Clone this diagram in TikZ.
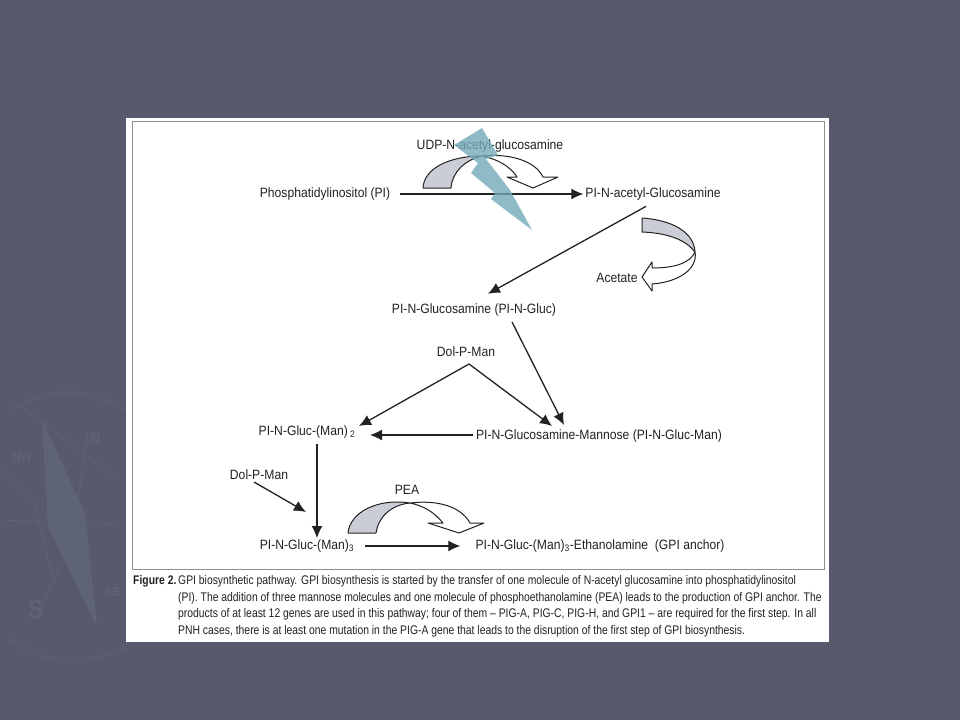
\documentclass[tikz,border=0pt]{standalone}
\usepackage{fontspec}
\setmainfont[FakeStretch=0.9]{Liberation Sans}
\newfontfamily\captiontext[FakeStretch=0.83]{Liberation Sans}
\usepackage{xcolor}
\usetikzlibrary{
    arrows.meta,
    positioning,
    calc
}
\definecolor{slidebg}{HTML}{575A6C}
\definecolor{slidemark}{HTML}{5F6376}
\definecolor{framegray}{HTML}{8E8E8E}
\definecolor{bandgray}{HTML}{CBCDD6}
\definecolor{boltblue}{HTML}{73ABB8}
\definecolor{inkdark}{HTML}{222222}

\begin{document}
\begin{tikzpicture}[
        x=1pt,
        y=-1pt,
        compound/.style={
            text=inkdark,
            font=\fontsize{13.5}{15}\selectfont,
            inner sep=2pt
        },
        line/.style={
            -{Latex[length=12pt,width=11pt]},
            line width=1.3pt,
            draw=inkdark
        },
        band/.style={
            fill=bandgray,
            draw=inkdark,
            line width=1pt,
            line join=round
        },
        hollow/.style={
            fill=white,
            draw=inkdark,
            line width=1pt,
            line join=round
        },
        compassline/.style={
            draw=slidemark,
            line width=0.8pt
        },
        compassfont/.style={
            text=slidemark,
            font=\bfseries\fontsize{26}{28}\selectfont
        },
        captionfont/.style={
            anchor=north west,
            inner sep=0pt,
            align=left,
            text=inkdark,
            font=\captiontext\fontsize{12.5}{16.8}\selectfont
        }
    ]

    % slide
    \useasboundingbox (0,0) rectangle (960,720);
    \fill[slidebg] (0,0) rectangle (960,720);

    % compass behind the panel
    \fill[slidemark] (42,420) -- (85,513) -- (97,627) -- (48,527) -- cycle;
    \draw[compassline] (88,430) -- (72,540) -- (40,610);
    \draw[compassline] (0,520) -- (120,525);
    \draw[compassline] (20,405) -- (120,480);
    \draw[compassline] (55,585) -- (33,500) -- (0,470);
    \draw[compassline, line width=5pt, dash pattern=on 1pt off 3pt]
        (10,640) arc[start angle=125, end angle=60, radius=110];
    \draw[compassline, line width=5pt, dash pattern=on 1pt off 3pt]
        (8,412) arc[start angle=-125, end angle=-50, radius=105];
    \node[compassfont] (compassS) at (36,610) {S};
    \node[compassfont, font=\bfseries\fontsize{15}{16}\selectfont] (compassN) at (95,438) {N};
    \node[compassfont, inner sep=0pt, font=\bfseries\fontsize{13}{14}\selectfont] (compassNW) at (22,457) {NW};
    \node[compassfont, inner sep=0pt, font=\bfseries\fontsize{13}{14}\selectfont] (compassSE) at (112,592) {SE};

    % panel
    \fill[white] (126,118) rectangle (829,642);
    \draw[framegray, line width=1pt] (132,121) rectangle (824,569);

    % compounds
    \node[compound] (udp) at (490,146) {UDP-N-acetyl-glucosamine};
    \node[compound] (pi) at (325,194) {Phosphatidylinositol (PI)};
    \node[compound] (acetylgluc) at (653,194) {PI-N-acetyl-Glucosamine};
    \node[compound] (acetate) at (617,278) {Acetate};
    \node[compound] (gluc) at (474,310) {PI-N-Glucosamine (PI-N-Gluc)};
    \node[compound] (dolupper) at (466,352) {Dol-P-Man};
    \node[compound] (mantwo) at (307,432) {PI-N-Gluc-(Man)\,\textsubscript{2}};
    \node[compound] (mannose) at (599,436) {PI-N-Glucosamine-Mannose (PI-N-Gluc-Man)};
    \node[compound] (dollower) at (259,475) {Dol-P-Man};
    \node[compound] (pea) at (407,490) {PEA};
    \node[compound] (manthree) at (307,546) {PI-N-Gluc-(Man)\textsubscript{3}};
    \node[compound] (anchor) at (600,546) {PI-N-Gluc-(Man)\textsubscript{3}-Ethanolamine\ \ (GPI anchor)};

    % free ends
    \coordinate (dolapex) at (469,364);
    \coordinate (glucfoot) at (512,322);
    \coordinate (mannosetopa) at (552,426);
    \coordinate (mannosetopb) at (564,425);
    \coordinate (mantwoin) at (359,426);
    \coordinate (mantwoside) at (370,435);
    \coordinate (mantwofoot) at (317,444);
    \coordinate (manthreetop) at (317,538);
    \coordinate (dollowerin) at (306,512);
    \coordinate (dollowerout) at (254,482);
    \coordinate (mannoseside) at (473,435);

    % curved arrows
    \draw[hollow]
        (482,156) .. controls (512,153) and (536,162) .. (543,177)
        -- (558,177) -- (533,188) -- (507,177) -- (517,177)
        .. controls (510,166) and (497,159) .. (482,156);
    \draw[band]
        (423,188) .. controls (424,168) and (450,156) .. (482,156)
        .. controls (465,160) and (452,172) .. (451,188) -- cycle;

    \draw[hollow]
        (410,503) .. controls (435,500) and (460,505) .. (470,523)
        -- (484,523) -- (459,533) -- (428,523) -- (443,523)
        .. controls (434,512) and (424,506) .. (410,503);
    \draw[band]
        (348,533) .. controls (350,512) and (378,498) .. (410,503)
        .. controls (390,505) and (378,518) .. (376,533) -- cycle;

    \draw[hollow]
        (695,252) .. controls (698,268) and (680,282) .. (652,284)
        -- (652,291) -- (642,277) -- (652,262) -- (652,268)
        .. controls (675,268) and (690,263) .. (695,252);
    \draw[band]
        (642,218) .. controls (672,220) and (694,232) .. (695,252)
        .. controls (686,240) and (668,233) .. (642,232) -- cycle;

    % connectors
    \draw[line, shorten <=8pt] (pi) -- (acetylgluc);
    \draw[line, shorten <=8pt, shorten >=16pt] (acetylgluc.south) -- (gluc.north);
    \draw[line] (glucfoot) -- (mannosetopb);
    \draw[line] (dolapex) -- (mantwoin);
    \draw[line] (dolapex) -- (mannosetopa);
    \draw[line] (mannoseside) -- (mantwoside);
    \draw[line] (mantwofoot) -- (manthreetop);
    \draw[line] (dollowerout) -- (dollowerin);
    \draw[line, shorten <=9pt, shorten >=13pt] (manthree) -- (anchor);

    % bolt
    \fill[boltblue, opacity=0.8]
        (482,128) -- (498,155) -- (486,159) -- (510,190) -- (532,230)
        -- (491,199) -- (495,193) -- (471,173) -- (478,163) -- (454,145) -- cycle;

    % caption
    \node[captionfont] (figlabel) at (133,575) {\textbf{Figure 2.}};
    \node[captionfont] (caption) at (178,575) {GPI biosynthetic pathway. GPI biosynthesis is started by the transfer of one molecule of N-acetyl glucosamine into phosphatidylinositol\\
        (PI). The addition of three mannose molecules and one molecule of phosphoethanolamine (PEA) leads to the production of GPI anchor. The\\
        products of at least 12 genes are used in this pathway; four of them – PIG-A, PIG-C, PIG-H, and GPI1 – are required for the first step. In all\\
        PNH cases, there is at least one mutation in the PIG-A gene that leads to the disruption of the first step of GPI biosynthesis.};

\end{tikzpicture}
\end{document}
